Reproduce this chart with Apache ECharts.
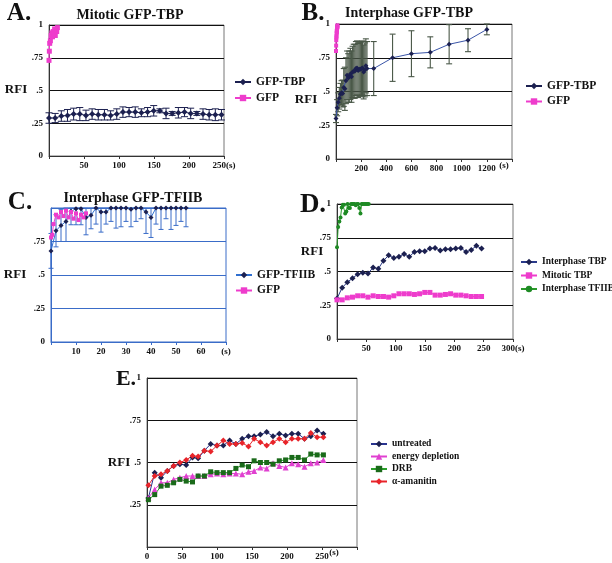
<!DOCTYPE html>
<html>
<head>
<meta charset="utf-8">
<script src="https://cdn.jsdelivr.net/npm/echarts@6/dist/echarts.min.js"></script>
<style>
  html, body { margin: 0; padding: 0; background: #fff; }
  #chart { width: 612px; height: 563px; }
</style>
</head>
<body>
<div id="chart"></div>
<script>
// 时间轴 (s)
const cellT = [0, 8.8, 17.6, 26.4, 35.2, 44, 52.8, 61.6, 70.4, 79.2, 88, 96.8, 105.6, 114.4, 123.2, 132, 140.8, 149.6, 158.4, 167.2, 176, 184.8, 193.6, 202.4, 211.2, 220, 228.8, 237.6, 246.4];
// A / D: mitotic TBP
const mitoticTBP = [0.29, 0.29, 0.305, 0.31, 0.32, 0.32, 0.31, 0.32, 0.315, 0.315, 0.31, 0.32, 0.335, 0.335, 0.335, 0.33, 0.335, 0.345, 0.345, 0.325, 0.325, 0.33, 0.335, 0.325, 0.325, 0.32, 0.315, 0.315, 0.315];
const mitoticErr = [0.04, 0.035, 0.04, 0.045, 0.045, 0.05, 0.04, 0.04, 0.04, 0.04, 0.035, 0.04, 0.04, 0.035, 0.04, 0.03, 0.035, 0.04, 0.015, 0.04, 0.015, 0.04, 0.035, 0.04, 0.015, 0.04, 0.04, 0.045, 0.04];
// B / D: interphase TBP
const interphaseTBP = [0.30, 0.38, 0.42, 0.45, 0.48, 0.49, 0.485, 0.53, 0.52, 0.58, 0.62, 0.60, 0.61, 0.63, 0.61, 0.645, 0.65, 0.65, 0.67, 0.675, 0.655, 0.665, 0.665, 0.67, 0.675, 0.645, 0.66, 0.69, 0.67];
const interphaseErr = [0.03, 0.06, 0.07, 0.08, 0.08, 0.09, 0.10, 0.14, 0.16, 0.17, 0.18, 0.18, 0.19, 0.19, 0.19, 0.19, 0.2, 0.2, 0.2, 0.2, 0.2, 0.2, 0.2, 0.2, 0.2, 0.2, 0.2, 0.2, 0.2];
const lateT = [300, 450, 600, 750, 900, 1050, 1200];
const lateTBP = [0.67, 0.75, 0.78, 0.79, 0.85, 0.88, 0.96];
const lateErr = [0.2, 0.175, 0.17, 0.115, 0.145, 0.085, 0.04];
// C / D: interphase TFIIB
const tfiibT = [0, 2, 4, 6, 8, 10, 12, 14, 16, 18, 20, 22, 24, 26, 28, 30, 32, 34, 36, 38, 40, 42, 44, 46, 48, 50, 52, 54];
const tfiib = [0.68, 0.83, 0.87, 0.90, 0.975, 0.995, 0.995, 0.93, 0.945, 1.0, 0.97, 0.97, 1.0, 1.0, 1.0, 1.0, 0.99, 1.0, 1.0, 0.97, 0.93, 1.0, 1.0, 1.0, 1.0, 1.0, 1.0, 1.0];
const tfiibErr = [0.13, 0.12, 0.12, 0.15, 0.1, 0.12, 0.12, 0.13, 0.1, 0.12, 0.15, 0.09, 0.1, 0.15, 0.14, 0.1, 0.13, 0.1, 0.08, 0.16, 0.15, 0.12, 0.16, 0.08, 0.16, 0.13, 0.1, 0.14];
// free GFP
const gfpAT = [0, 0.5, 1, 2, 3, 4, 5, 6, 7, 8, 9, 10, 11, 12];
const gfpA = [0.73, 0.80, 0.86, 0.88, 0.92, 0.94, 0.91, 0.95, 0.93, 0.97, 0.92, 0.96, 0.95, 0.98];
const gfpBT = [0, 1, 2, 3, 4, 5, 6, 7, 8, 9, 10, 11, 12];
const gfpB = [0.80, 0.84, 0.88, 0.90, 0.91, 0.93, 0.95, 0.94, 0.96, 0.97, 0.98, 0.99, 0.98];
const gfpCT = [0, 0.5, 1, 2, 3, 4, 5, 6, 7, 8, 9, 10, 11, 12, 13, 14];
const gfpC = [0.78, 0.80, 0.88, 0.95, 0.93, 0.97, 0.94, 0.98, 0.93, 0.97, 0.92, 0.96, 0.91, 0.95, 0.93, 0.96];
// E: 药物处理
const eT = [2, 11, 20, 29, 38, 47, 56, 65, 73, 82, 91, 100, 109, 118, 127, 136, 145, 153, 162, 171, 180, 189, 198, 207, 216, 225, 234, 243, 252];
const untreated = [0.29, 0.44, 0.41, 0.45, 0.48, 0.49, 0.485, 0.53, 0.525, 0.57, 0.61, 0.60, 0.60, 0.63, 0.61, 0.64, 0.655, 0.655, 0.665, 0.68, 0.655, 0.67, 0.66, 0.67, 0.67, 0.64, 0.655, 0.69, 0.67];
const energyDepletion = [0.29, 0.34, 0.38, 0.38, 0.40, 0.41, 0.42, 0.42, 0.42, 0.42, 0.43, 0.435, 0.43, 0.435, 0.435, 0.43, 0.445, 0.45, 0.47, 0.465, 0.495, 0.48, 0.47, 0.495, 0.49, 0.475, 0.495, 0.50, 0.515];
const drb = [0.28, 0.31, 0.36, 0.365, 0.38, 0.40, 0.39, 0.385, 0.42, 0.42, 0.445, 0.44, 0.44, 0.44, 0.465, 0.485, 0.475, 0.51, 0.50, 0.50, 0.49, 0.51, 0.515, 0.53, 0.53, 0.515, 0.55, 0.545, 0.545];
const amanitin = [0.366, 0.42, 0.43, 0.45, 0.48, 0.50, 0.515, 0.54, 0.535, 0.57, 0.565, 0.60, 0.63, 0.61, 0.61, 0.615, 0.595, 0.64, 0.62, 0.60, 0.62, 0.64, 0.62, 0.64, 0.64, 0.64, 0.675, 0.65, 0.65];

const FONT = 'Liberation Serif';
const NAVY = '#1c2050';
const MAGENTA = '#ee3ccc';

function pairs(xs, ys) {
    return xs.map((x, i) => [x, ys[i]]);
}
function errData(xs, ys, es) {
    return xs.map((x, i) => [x, ys[i] - es[i], Math.min(1, ys[i] + es[i])]);
}
function yFmt(v) {
    if (v === 1) return '1';
    if (v === 0) return '0';
    return String(v).replace(/^0/, '');
}

// 误差线
function errRender(cap, color, lw) {
    return function(params, api) {
        const p1 = api.coord([api.value(0), api.value(1)]);
        const p2 = api.coord([api.value(0), api.value(2)]);
        const st = { stroke: color, lineWidth: lw };
        return {
            type: 'group',
            children: [
                { type: 'line', shape: { x1: p1[0], y1: p1[1], x2: p2[0], y2: p2[1] }, style: st },
                { type: 'line', shape: { x1: p1[0] - cap, y1: p1[1], x2: p1[0] + cap, y2: p1[1] }, style: st },
                { type: 'line', shape: { x1: p2[0] - cap, y1: p2[1], x2: p2[0] + cap, y2: p2[1] }, style: st }
            ]
        };
    };
}

function xAx(grid, max, interval, fmt, color) {
    return {
        type: 'value', gridIndex: grid, min: 0, max: max, interval: interval,
        axisLine: { show: true, lineStyle: { color: color, width: 1 } },
        axisTick: { show: true, length: 3, lineStyle: { color: color } },
        splitLine: { show: false },
        axisLabel: { fontFamily: FONT, fontWeight: 'bold', fontSize: 9, color: '#111', margin: 5, formatter: fmt }
    };
}
function yAx(grid, gridColor, axisColor, fmt) {
    return {
        type: 'value', gridIndex: grid, min: 0, max: 1, interval: 0.25,
        axisLine: { show: true, lineStyle: { color: axisColor } },
        axisTick: { show: false },
        splitLine: { show: true, lineStyle: { color: gridColor, width: 1 } },
        axisLabel: { fontFamily: FONT, fontWeight: 'bold', fontSize: 9, color: '#111', margin: 6, formatter: fmt || yFmt }
    };
}
function lineS(name, grid, data, color, lineColor, symbol, size) {
    return {
        name: name, type: 'line', xAxisIndex: grid, yAxisIndex: grid, data: data,
        symbol: symbol, symbolSize: size, z: 5,
        itemStyle: { color: color },
        lineStyle: { color: lineColor, width: 1 }
    };
}
function legendAt(left, top, names, gap, size) {
    return {
        left: left, top: top, orient: 'vertical', data: names, padding: 0,
        itemWidth: 16, itemHeight: 8, itemGap: gap,
        textStyle: { fontFamily: FONT, fontWeight: 'bold', fontSize: size, lineHeight: 9, color: '#111' }
    };
}
function txt(x, y, s, size, align) {
    return {
        type: 'text', x: x, y: y,
        style: { text: s, fontFamily: FONT, fontWeight: 'bold', fontSize: size, fill: '#111', align: align || 'center', verticalAlign: 'middle' }
    };
}

const chart = echarts.init(document.getElementById('chart'));

const bT = cellT.concat(lateT);
const bV = interphaseTBP.concat(lateTBP);
const bE = interphaseErr.concat(lateErr);

const option = {
    animation: false,
    backgroundColor: '#fff',
    grid: [
        { left: 49, top: 25, width: 175, height: 131, show: true, borderColor: '#777', borderWidth: 1 },
        { left: 336, top: 24, width: 176, height: 135, show: true, borderColor: '#777', borderWidth: 1 },
        { left: 51, top: 208, width: 175, height: 134, show: true, borderColor: '#3a6cc8', borderWidth: 1 },
        { left: 337, top: 204, width: 176, height: 135, show: true, borderColor: '#777', borderWidth: 1 },
        { left: 147, top: 378, width: 210, height: 169, show: true, borderColor: '#777', borderWidth: 1 }
    ],
    xAxis: [
        xAx(0, 250, 50, v => v === 0 ? '' : (v === 250 ? '250(s)' : v), '#333'),
        xAx(1, 1400, 200, v => (v === 0 || v === 1400) ? '' : v, '#333'),
        xAx(2, 70, 10, v => v === 0 ? '' : (v === 70 ? '(s)' : v), '#3a6cc8'),
        xAx(3, 300, 50, v => v === 0 ? '' : (v === 300 ? '300(s)' : v), '#333'),
        xAx(4, 300, 50, v => v === 300 ? '' : v, '#333')
    ],
    yAxis: [
        yAx(0, '#111', '#333'),
        yAx(1, '#111', '#333'),
        yAx(2, '#3a6cc8', '#3a6cc8', v => v === 1 ? '' : yFmt(v)),
        yAx(3, '#111', '#333'),
        yAx(4, '#111', '#333', v => v === 0 ? '' : yFmt(v))
    ],
    legend: [
        legendAt(234, 76, ['GFP-TBP', 'GFP'], 4, 11.5),
        legendAt(525, 80, ['GFP-TBP', 'GFP'], 3.5, 11.5),
        legendAt(235, 269, ['GFP-TFIIB', 'GFP'], 3.5, 11.5),
        legendAt(520, 257, ['Interphase TBP', 'Mitotic TBP', 'Interphase TFIIB'], 3.5, 9.5),
        legendAt(370, 439, ['untreated', 'energy depletion', 'DRB', 'α-amanitin'], 2.5, 9.5)
    ],
    series: [
        // A
        { type: 'custom', xAxisIndex: 0, yAxisIndex: 0, z: 3, renderItem: errRender(3.5, NAVY, 1),
          encode: { x: 0, y: [1, 2] }, data: errData(cellT, mitoticTBP, mitoticErr) },
        lineS('GFP-TBP', 0, pairs(cellT, mitoticTBP), NAVY, NAVY, 'diamond', 6),
        lineS('GFP', 0, pairs(gfpAT, gfpA), MAGENTA, MAGENTA, 'rect', 5),
        // B
        { type: 'custom', xAxisIndex: 1, yAxisIndex: 1, z: 3, renderItem: errRender(3, '#4a5848', 1.1),
          encode: { x: 0, y: [1, 2] }, data: errData(bT, bV, bE) },
        lineS('GFP-TBP', 1, pairs(bT, bV), NAVY, '#3a55a8', 'diamond', 5),
        lineS('GFP', 1, pairs(gfpBT, gfpB), MAGENTA, MAGENTA, 'rect', 4),
        // C
        { type: 'custom', xAxisIndex: 2, yAxisIndex: 2, z: 3, renderItem: errRender(2.5, '#3a6cc8', 1),
          encode: { x: 0, y: [1, 2] }, data: errData(tfiibT, tfiib, tfiibErr) },
        lineS('GFP-TFIIB', 2, pairs(tfiibT, tfiib), NAVY, '#2f6fd0', 'diamond', 5),
        lineS('GFP', 2, pairs(gfpCT, gfpC), MAGENTA, MAGENTA, 'rect', 4),
        // D
        lineS('Interphase TBP', 3, pairs(cellT, interphaseTBP), NAVY, '#2a3a8a', 'diamond', 6),
        lineS('Mitotic TBP', 3, pairs(cellT, mitoticTBP), MAGENTA, MAGENTA, 'rect', 5),
        lineS('Interphase TFIIB', 3, pairs(tfiibT, tfiib), '#1e8a24', '#2a9a2a', 'circle', 4),
        // E
        lineS('untreated', 4, pairs(eT, untreated), NAVY, '#2a3490', 'diamond', 6),
        lineS('energy depletion', 4, pairs(eT, energyDepletion), '#e040d0', '#e040d0', 'triangle', 6),
        lineS('DRB', 4, pairs(eT, drb), '#1a6a1a', '#2aa02a', 'rect', 5),
        lineS('α-amanitin', 4, pairs(eT, amanitin), '#e8242a', '#e8242a', 'diamond', 6)
    ],
    graphic: [
        txt(19, 14, 'A.', 25), txt(313, 14, 'B.', 25), txt(20, 203, 'C.', 25),
        txt(313, 205, 'D.', 27), txt(126, 379, 'E.', 22),
        txt(130, 15, 'Mitotic GFP-TBP', 14), txt(409, 13, 'Interphase GFP-TBP', 14),
        txt(133, 198, 'Interphase GFP-TFIIB', 14),
        txt(16, 90, 'RFI', 13), txt(306, 100, 'RFI', 13), txt(15, 275, 'RFI', 13),
        txt(312, 252, 'RFI', 13), txt(119, 463, 'RFI', 13),
        txt(504, 166, '(s)', 9), txt(334, 553, '(s)', 9)
    ]
};
chart.setOption(option);
</script>
</body>
</html>
